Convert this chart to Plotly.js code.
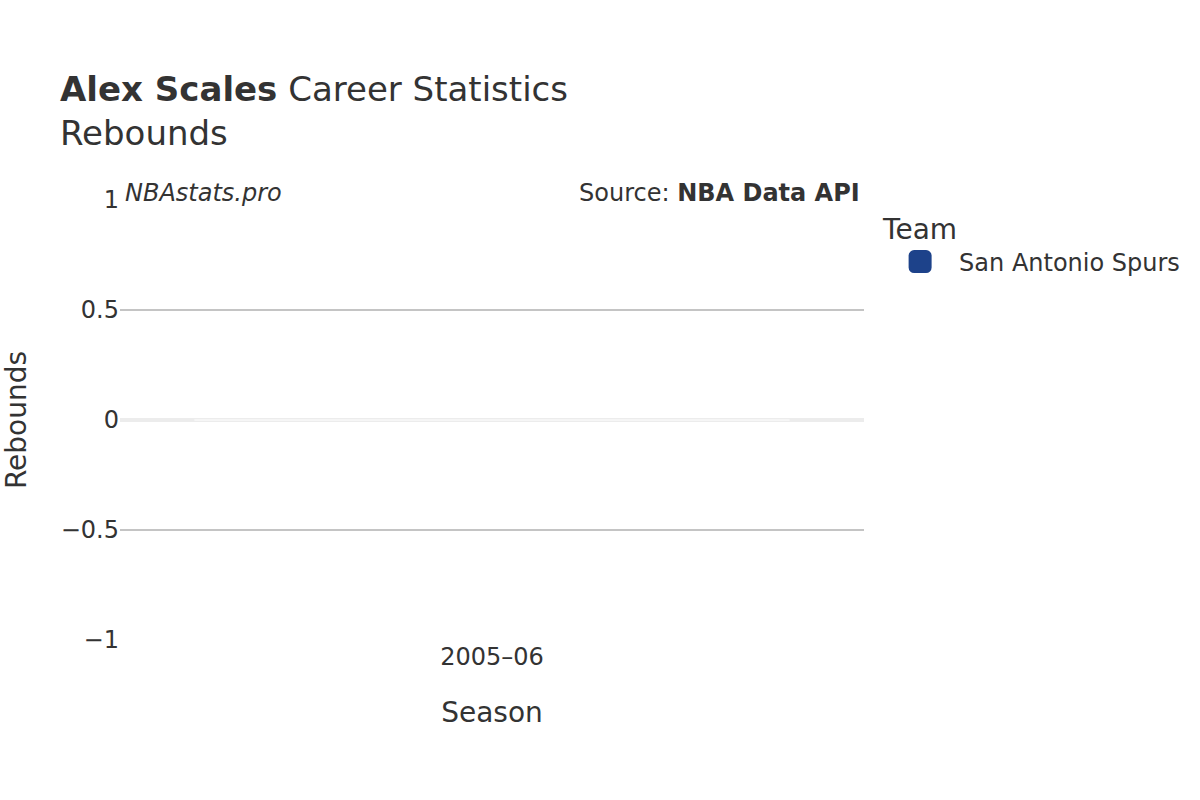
<!DOCTYPE html>
<html>
<head>
    <meta charset="utf-8">
    <title>Alex Scales Rebounds</title>
    <script src="https://cdn.plot.ly/plotly-3.0.1.min.js" charset="utf-8"></script>
    <style>
        * { margin: 0; padding: 0; box-sizing: border-box; }
        body { background: white; }
        #chart { width: 1200px; height: 800px; }
        /* квадратик в легенде крупнее и со скруглёнными углами */
        #chart .legend .legendpoints path {
            stroke: #1d428a !important;
            stroke-opacity: 1 !important;
            stroke-width: 11px !important;
            stroke-linejoin: round;
        }
    </style>
</head>
<body>
    <div id="chart"></div>
    <script>
        // данные из картинки
        const seasons = ["2005–06"];
        const teams = ["San Antonio Spurs"];
        const rebounds = [0];
        const teamColors = ["#1d428a"];

        const font = 'DejaVu Sans, sans-serif';
        const textColor = '#333333';

        let data = teams.map(function(team, i) {
            return {
                type: 'bar',
                name: team,
                x: seasons,
                y: rebounds,
                marker: {
                    color: teamColors[i],
                    line: { color: 'rgba(255,255,255,0.6)', width: 1 }
                },
                width: 0.8
            };
        });

        let layout = {
            width: 1200,
            height: 800,
            paper_bgcolor: 'white',
            plot_bgcolor: 'white',
            font: { family: font, color: textColor, size: 24 },
            margin: { l: 120, r: 336, t: 200, b: 160 },
            title: {
                text: '<b>Alex Scales</b> Career Statistics<br>Rebounds',
                font: { family: font, size: 34, color: textColor },
                x: 0.05,
                xanchor: 'left',
                xref: 'container',
                y: 0.874,
                yanchor: 'top',
                yref: 'container'
            },
            xaxis: {
                title: { text: 'Season', font: { size: 28 }, standoff: 32 },
                tickfont: { size: 24 },
                showgrid: false,
                showline: false,
                ticks: ''
            },
            yaxis: {
                title: { text: 'Rebounds', font: { size: 28 }, standoff: 30 },
                range: [-1, 1],
                dtick: 0.5,
                tickfont: { size: 24 },
                showgrid: true,
                gridcolor: '#c4c4c4',
                gridwidth: 2,
                zeroline: true,
                zerolinecolor: '#ececec',
                zerolinewidth: 4,
                showline: false,
                ticks: ''
            },
            legend: {
                title: { text: 'Team', font: { size: 28 } },
                font: { size: 24 },
                itemwidth: 68,
                x: 1.023,
                xanchor: 'left',
                y: 0.993,
                yanchor: 'top'
            },
            annotations: [
                {
                    text: '<i>NBAstats.pro</i>',
                    xref: 'paper', yref: 'paper',
                    x: 0, y: 1.015,
                    xanchor: 'left', yanchor: 'middle',
                    xshift: 3,
                    showarrow: false,
                    font: { size: 24, color: textColor }
                },
                {
                    text: 'Source: <b>NBA Data API</b>',
                    xref: 'paper', yref: 'paper',
                    x: 1, y: 1.015,
                    xanchor: 'right', yanchor: 'middle',
                    xshift: -2,
                    showarrow: false,
                    font: { size: 24, color: textColor }
                }
            ],
            showlegend: true
        };

        Plotly.newPlot('chart', data, layout, { displayModeBar: false });
    </script>
</body>
</html>
